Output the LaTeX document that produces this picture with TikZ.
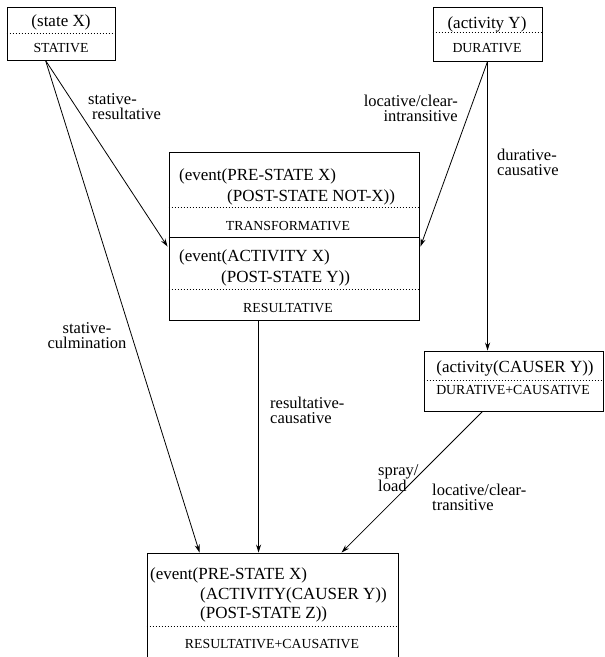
\documentclass[tikz,border=0pt]{standalone}
\usepackage{fontspec}
\setmainfont{Liberation Serif}
\usetikzlibrary{arrows.meta,calc}
\begin{document}
\begin{tikzpicture}[x=1pt,y=-1pt,
  box/.style={draw,line width=0.9pt,inner sep=0pt},
  sepline/.style={line width=0.8pt,dash pattern=on 1pt off 2pt},
  main/.style={font=\fontsize{17}{20}\selectfont,inner sep=0pt},
  capt/.style={font=\fontsize{13.8}{16}\selectfont,inner sep=0pt},
  lbl/.style={font=\fontsize{16.5}{15}\selectfont,inner sep=0pt},
  conn/.style={line width=0.8pt,-{Stealth[length=8pt,width=5pt]}}]
\useasboundingbox (0,0) rectangle (605,657);

% boxes
\node[box,minimum width=108pt,minimum height=53pt] (A) at (61,33.5) {};
\node[box,minimum width=109pt,minimum height=54pt] (B) at (487.5,34) {};
\node[box,minimum width=250pt,minimum height=168pt] (C) at (294,236) {};
\node[box,minimum width=179pt,minimum height=60pt] (D) at (513.5,381) {};
\node[box,minimum width=251pt,minimum height=107pt] (E) at (272.5,606.5) {};

% separators
\draw[sepline] ($(A.north west)+(0,27)$) -- ($(A.north east)+(0,27)$);
\draw[sepline] ($(B.north west)+(0,26)$) -- ($(B.north east)+(0,26)$);
\draw[sepline] ($(C.north west)+(0,56)$) -- ($(C.north east)+(0,56)$);
\draw[line width=0.9pt] ($(C.north west)+(0,86)$) -- ($(C.north east)+(0,86)$);
\draw[sepline] ($(C.north west)+(0,138)$) -- ($(C.north east)+(0,138)$);
\draw[sepline] ($(D.north west)+(0,30)$) -- ($(D.north east)+(0,30)$);
\draw[sepline] ($(E.north west)+(0,74)$) -- ($(E.north east)+(0,74)$);

% box texts
\node[main,anchor=base] (A1) at (61,26) {(state X)};
\node[capt,anchor=base] (A2) at (61,52) {STATIVE};
\node[main,anchor=base] (B1) at (487,28) {(activity Y)};
\node[capt,anchor=base] (B2) at (487,52) {DURATIVE};

\node[main,anchor=base west] (C1) at (179,180) {(event(PRE-STATE X)};
\node[main,anchor=base west] (C2) at (227,201) {(POST-STATE NOT-X))};
\node[capt,anchor=base] (C3) at (288,230) {TRANSFORMATIVE};
\node[main,anchor=base west] (C4) at (179,261) {(event(ACTIVITY X)};
\node[main,anchor=base west] (C5) at (221,282) {(POST-STATE Y))};
\node[capt,anchor=base] (C6) at (288,312) {RESULTATIVE};

\node[main,anchor=base] (D1) at (515,372) {(activity(CAUSER Y))};
\node[capt,anchor=base] (D2) at (513,394) {DURATIVE+CAUSATIVE};

\node[main,anchor=base west] (E1) at (150,579) {(event(PRE-STATE X)};
\node[main,anchor=base west] (E2) at (200,599) {(ACTIVITY(CAUSER Y))};
\node[main,anchor=base west] (E3) at (200,618) {(POST-STATE Z))};
\node[capt,anchor=base] (E4) at (272,648) {RESULTATIVE+CAUSATIVE};

% connector end points
\coordinate (Aout) at ($(A.south west)+(39,0)$);
\coordinate (Bout) at ($(B.south west)+(55,0)$);
\coordinate (Cinl) at ($(C.north west)+(-1,95)$);
\coordinate (Cinr) at ($(C.north east)+(1,95)$);
\coordinate (Cout) at ($(C.south west)+(90,0)$);
\coordinate (Din)  at ($(D.north west)+(64,0)$);
\coordinate (Dout) at ($(D.south west)+(59,0)$);
\coordinate (Ein1) at ($(E.north west)+(53,0)$);
\coordinate (Ein2) at ($(E.north west)+(112,0)$);
\coordinate (Ein3) at ($(E.north west)+(195,0)$);

% connectors
\draw[conn] (Aout) -- (Cinl);
\draw[conn] (Aout) -- (Ein1);
\draw[conn] (Bout) -- (Cinr);
\draw[conn] (Bout) -- (Din);
\draw[conn] (Cout) -- (Ein2);
\draw[conn] (Dout) -- (Ein3);

% connector labels
\node[lbl,align=left,anchor=west] (L1) at (88,107) {stative-\\\hspace*{4pt}resultative};
\node[lbl,align=right,anchor=east] (L2) at (458,108) {locative/clear-\\intransitive};
\node[lbl,align=left,anchor=west] (L3) at (497,162) {durative-\\causative};
\node[lbl,align=center] (L4) at (87,336) {stative-\\culmination};
\node[lbl,align=left,anchor=west] (L5) at (270,410) {resultative-\\causative};
\node[lbl,align=left,anchor=west] (L6) at (378,478) {spray/\\load};
\node[lbl,align=left,anchor=west] (L7) at (432,497) {locative/clear-\\transitive};
\end{tikzpicture}
\end{document}
